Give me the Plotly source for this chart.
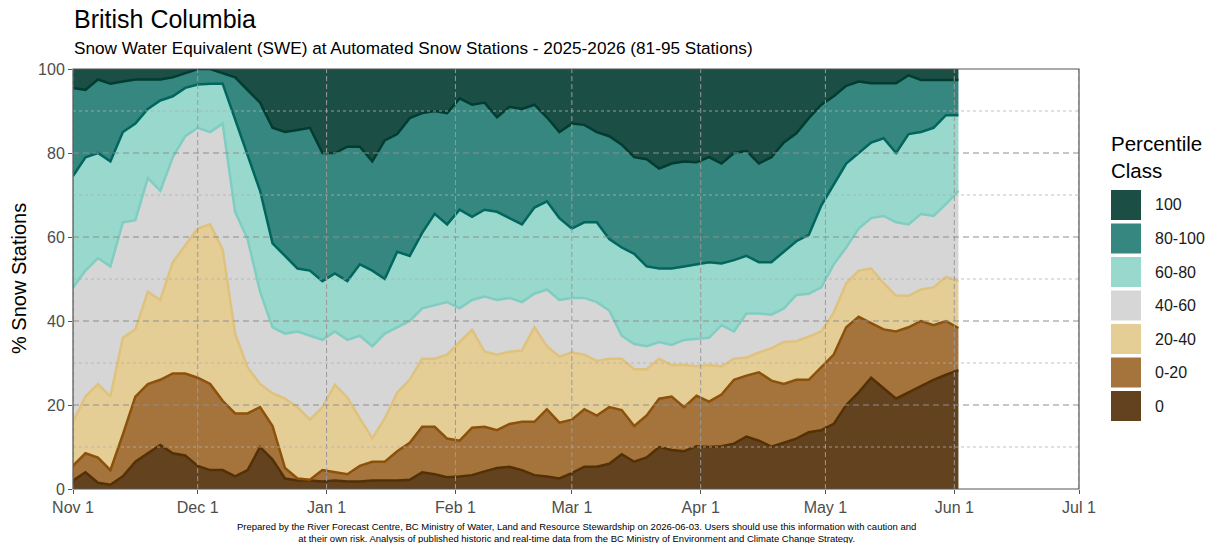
import plotly.graph_objects as go
import pandas as pd

# sample dates (every 3 days, Nov 1 2025 -> Jun 2 2026)
dates = pd.date_range("2025-11-01", periods=72, freq="3D")

# cumulative % of snow stations at or below each percentile class (top edge of each band)
cum_0 = [2, 4, 1.5, 1, 3, 6.5, 8.5, 10.5, 8.5, 8, 5.5, 4.5, 4.5, 3, 4.5, 10,
         7, 2.5, 2, 2, 1.8, 2, 1.8, 1.8, 2, 2, 2, 2.2, 4, 3.5, 2.8, 3,
         3.3, 4.2, 5, 5.3, 4.5, 3.3, 3, 2.5, 3.8, 5.3, 5.3, 6, 8.3, 6.5, 7.5, 10,
         9.3, 9, 10.2, 10, 10.2, 10.8, 12.5, 11.5, 10.1, 11, 12, 13.5, 14, 15.5, 20,
         23, 26.5, 24, 21.5, 23, 24.5, 26, 27.2, 28.3]
cum_0_20 = [5.5, 8.5, 7.5, 4.5, 13, 22, 25, 26, 27.5, 27.5, 26.5, 25, 21, 18, 18, 19.5,
            15, 5, 2.5, 2.2, 4.5, 4, 3.5, 5.5, 6.5, 6.5, 9, 11, 14.8, 14.8, 12, 11.5,
            14.6, 14.8, 14, 15.5, 16, 16, 19, 15.8, 16.5, 19, 17.5, 19.5, 18.8, 15, 17.5, 21.5,
            22, 19.5, 22.2, 20.8, 22.5, 26, 27, 27.8, 25.8, 25, 26, 26, 29, 32, 38.5,
            41, 39.5, 38, 37.5, 38.5, 40, 39, 40, 38.3]
cum_20_40 = [16, 22, 25, 22, 36, 38, 47, 45, 54, 58, 62, 63, 57, 37, 29, 25,
             22.8, 21.5, 19.5, 16.5, 19.5, 24.8, 21.8, 16.8, 12.1, 16.8, 23, 26, 31, 31, 32, 35,
             37.9, 32.7, 32, 32.7, 33, 38.5, 34, 31.5, 32.5, 32, 30.5, 31, 31, 28.5, 28.5, 31,
             29.5, 29.5, 29.2, 29.5, 29.2, 31, 31.3, 32.5, 33.5, 35, 35.2, 36.3, 37.5, 42, 49,
             52, 52.5, 49, 46, 46, 47.5, 48, 50.5, 49.5]
cum_40_60 = [48, 52, 55, 53, 63.5, 64, 74, 71, 79, 84, 86, 85, 87, 66, 59.5, 47,
             38.5, 37, 37.5, 36.5, 35.5, 37.5, 35.5, 36.5, 34, 37, 38.5, 40, 43, 43.8, 44.5, 43,
             45, 45.8, 45, 45.5, 44.5, 46.5, 47.5, 45, 45.5, 45.5, 44.5, 42.5, 36.5, 34.5, 34, 35,
             34.3, 35.5, 35.7, 36, 39, 37.5, 41.8, 41.8, 41.5, 43, 46.2, 46.5, 48, 53.5, 57.5,
             62, 64.5, 65, 63.5, 63, 65.5, 65, 67.8, 71]
cum_60_80 = [74.5, 79, 80, 78, 85, 87, 90.5, 92.5, 93.5, 95.5, 96.3, 96.5, 96.5, 88, 80, 71,
             58.5, 55.5, 52.5, 52, 49.5, 51.3, 49.5, 53.5, 52, 50, 56.5, 55.5, 61, 65.5, 63, 66.5,
             64.8, 66.5, 66, 64.5, 63, 67, 68.5, 64.5, 62, 63.5, 63.5, 59.5, 57.5, 56, 53, 52.5,
             52.5, 53, 53.5, 54, 53.7, 54.5, 55.5, 54, 54, 56.5, 59, 60.5, 67.5, 72.5, 77.5,
             80, 82.5, 83.5, 80, 84.5, 85, 86, 89, 89]
cum_80_100 = [95.5, 95, 97.5, 96.5, 97, 97.5, 97.5, 97.5, 98, 99, 100, 100, 99, 98, 95, 92,
              86, 85, 85.5, 86, 80, 80, 81.5, 81.5, 78, 83, 84.5, 88.3, 89.5, 90, 89.5, 93,
              91.5, 92, 88.5, 91, 90.5, 91.5, 88.5, 85, 87, 86.7, 85, 84, 82, 79, 78.5, 76.3,
              77.5, 78, 77.8, 79, 77.5, 80, 80.5, 77.5, 79, 82.5, 84.7, 88.3, 91.5, 93.5, 96,
              97, 96.6, 96.6, 96.6, 98.5, 97.4, 97.4, 97.4, 97.4]
cum_100 = [100] * len(dates)

classes = ["0", "0-20", "20-40", "40-60", "60-80", "80-100", "100"]
fill_colors = ["#62421f", "#a4743c", "#e5cd96", "#d6d6d6", "#99d8cc", "#35877f", "#1b4f46"]
line_colors = ["#543005", "#8c510a", "#dfc27d", "#80cdc1", "#01665e", "#003c30", "#1b4f46"]

month_ticks = ["2025-11-01", "2025-12-01", "2026-01-01", "2026-02-01", "2026-03-01",
               "2026-04-01", "2026-05-01", "2026-06-01", "2026-07-01"]
month_labels = ["Nov 1", "Dec 1", "Jan 1", "Feb 1", "Mar 1", "Apr 1", "May 1", "Jun 1", "Jul 1"]

FONT = "Liberation Sans, Arial, sans-serif"
L, T, W, H = 73, 69, 1006, 420


def px_x(px):
    return (px - L) / W


def px_y(py):
    return (T + H - py) / H


fig = go.Figure()
series = [cum_0, cum_0_20, cum_20_40, cum_40_60, cum_60_80, cum_80_100, cum_100]
for i, y in enumerate(series):
    fig.add_trace(go.Scatter(
        x=dates, y=y, mode="lines",
        name=classes[i],
        line=dict(color=line_colors[i], width=2.5 if i < 6 else 0),
        fill="tozeroy" if i == 0 else "tonexty",
        fillcolor=fill_colors[i],
        showlegend=False,
    ))

shapes = []
# grid drawn over the areas, like the original
for m in month_ticks:
    shapes.append(dict(type="line", xref="x", yref="paper", x0=m, x1=m, y0=0, y1=1,
                       line=dict(color="#9a9a9a", width=1, dash="5px,3px"), layer="above"))
for v in [10, 30, 50, 70, 90]:
    shapes.append(dict(type="line", xref="paper", yref="y", x0=0, x1=1, y0=v, y1=v,
                       line=dict(color="#b0b0b0", width=0.8, dash="3px,3px"), layer="above"))
for v in [20, 40, 60, 80]:
    shapes.append(dict(type="line", xref="paper", yref="y", x0=0, x1=1, y0=v, y1=v,
                       line=dict(color="#8e8e8e", width=1, dash="6px,4px"), layer="above"))
shapes.append(dict(type="rect", xref="paper", yref="paper", x0=0, x1=1, y0=0, y1=1,
                   line=dict(color="#555555", width=1.2), layer="above"))

annotations = [
    dict(text="British Columbia", x=px_x(72), y=px_y(19), xref="paper", yref="paper",
         xanchor="left", yanchor="middle", showarrow=False,
         font=dict(family=FONT, size=25, color="#000000")),
    dict(text="Snow Water Equivalent (SWE) at Automated Snow Stations - 2025-2026 (81-95 Stations)",
         x=px_x(72), y=px_y(48), xref="paper", yref="paper", xanchor="left", yanchor="middle",
         showarrow=False, font=dict(family=FONT, size=17.2, color="#000000")),
    dict(text="% Snow Stations", x=px_x(19), y=px_y(279), xref="paper", yref="paper",
         textangle=-90, xanchor="center", yanchor="middle", showarrow=False,
         font=dict(family=FONT, size=20, color="#000000")),
    dict(text="Prepared by the River Forecast Centre, BC Ministry of Water, Land and Resource Stewardship on 2026-06-03. Users should use this information with caution and<br>at their own risk. Analysis of published historic and real-time data from the BC Ministry of Environment and Climate Change Strategy.",
         x=px_x(576), y=px_y(532), xref="paper", yref="paper", xanchor="center", yanchor="middle",
         showarrow=False, font=dict(family=FONT, size=9.5, color="#000000")),
    dict(text="Percentile<br>Class", x=px_x(1109), y=px_y(157), xref="paper", yref="paper",
         xanchor="left", yanchor="middle", align="left", showarrow=False,
         font=dict(family=FONT, size=20.5, color="#000000")),
]

# legend built by hand so the keys are large squares
for k, name in enumerate(classes[::-1]):
    top = 190 + 33.5 * k
    shapes.append(dict(type="rect", xref="paper", yref="paper",
                       x0=px_x(1111), x1=px_x(1141), y0=px_y(top + 30), y1=px_y(top),
                       fillcolor=fill_colors[::-1][k], line=dict(width=0)))
    annotations.append(dict(text=name, x=px_x(1153), y=px_y(top + 15), xref="paper", yref="paper",
                            xanchor="left", yanchor="middle", showarrow=False,
                            font=dict(family=FONT, size=16, color="#1a1a1a")))

fig.update_layout(
    width=1212, height=543,
    margin=dict(l=L, r=1212 - L - W, t=T, b=543 - T - H),
    paper_bgcolor="white", plot_bgcolor="white",
    shapes=shapes, annotations=annotations,
    font=dict(family=FONT),
    xaxis=dict(type="date", range=["2025-11-01", "2026-07-01"],
               tickvals=month_ticks, ticktext=month_labels,
               showgrid=False, zeroline=False, ticks="outside", ticklen=4,
               tickcolor="#555555", tickfont=dict(size=16, color="#4d4d4d")),
    yaxis=dict(range=[0, 100], tickvals=[0, 20, 40, 60, 80, 100],
               showgrid=False, zeroline=False, ticks="outside", ticklen=4,
               tickcolor="#555555", tickfont=dict(size=16, color="#4d4d4d")),
)

fig.write_html("out.html", config={"displayModeBar": False},
               post_script="document.body.style.margin='0px';")
